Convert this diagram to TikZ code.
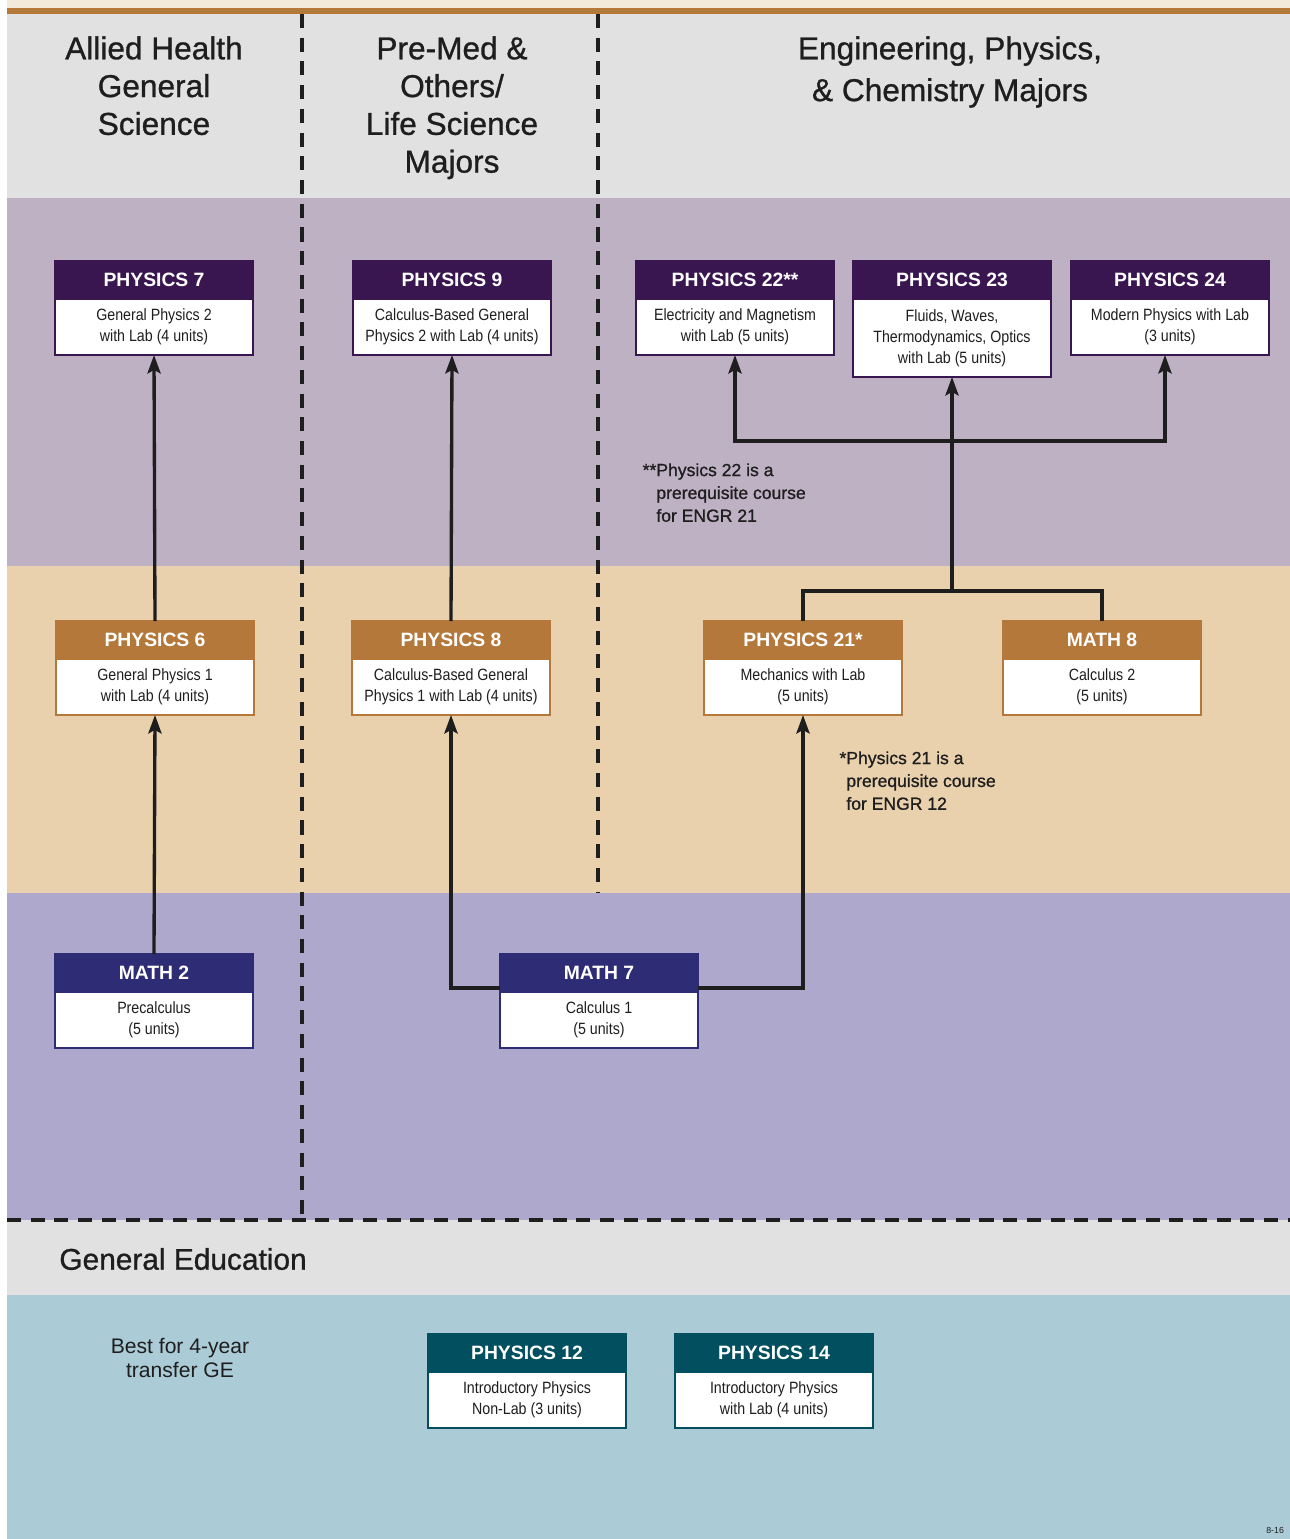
\documentclass[tikz,border=0pt]{standalone}
\usepackage{fontspec}
\setmainfont{Liberation Sans}
\newfontfamily\narrowfont{Liberation Sans}[FakeStretch=0.87]
\newfontfamily\headfont{Liberation Sans}[FakeBold=0.9]
\usepackage{tikz}
\usetikzlibrary{arrows.meta, positioning}

\definecolor{topstrip}{HTML}{F4EADB}
\definecolor{rulebar}{HTML}{B5793A}
\definecolor{headgray}{HTML}{E1E1E1}
\definecolor{rowone}{HTML}{BEB1C4}
\definecolor{rowtwo}{HTML}{E9D1AD}
\definecolor{rowthree}{HTML}{AEA8CD}
\definecolor{geblue}{HTML}{ABCCD7}
\definecolor{plum}{HTML}{3A1650}
\definecolor{bronze}{HTML}{B4783A}
\definecolor{navyblue}{HTML}{2D2C74}
\definecolor{petrol}{HTML}{02505F}
\definecolor{ink}{HTML}{1E1E1E}

\tikzset{
    coursehead/.style={rectangle, draw=#1, fill=#1, line width=1.2pt, minimum width=3.96cm, minimum height=0.76cm, inner sep=0pt, outer sep=0pt, text=white, font=\fontsize{11}{13}\selectfont\bfseries},
    coursebody/.style={rectangle, draw=#1, fill=white, line width=1.2pt, minimum width=3.96cm, minimum height=1.12cm, inner sep=0pt, outer sep=0pt, align=center, text=ink, font=\narrowfont\fontsize{9.3}{11.9}\selectfont},
    conn/.style={line width=1.9pt, draw=ink},
    arr/.style={conn, -{Stealth[length=10.5pt, width=7.5pt, inset=2pt]}},
    divider/.style={line width=2.2pt, draw=ink, dash pattern=on 8pt off 5.5pt},
    heading/.style={align=center, text=ink, inner sep=0pt, anchor=north},
    note/.style={align=left, text=ink, inner sep=0pt, anchor=north west, font=\headfont\fontsize{10}{13}\selectfont},
}

\begin{document}
\begin{tikzpicture}[x=0.02cm, y=-0.02cm]
    \useasboundingbox (0,0) rectangle (1290,1539);

    % bands
    \fill[topstrip] (7,0) rectangle (1290,8);
    \fill[rulebar] (7,8) rectangle (1290,14);
    \fill[headgray] (7,14) rectangle (1290,198);
    \fill[rowone] (7,198) rectangle (1290,566);
    \fill[rowtwo] (7,566) rectangle (1290,893);
    \fill[rowthree] (7,893) rectangle (1290,1220);
    \fill[headgray] (7,1220) rectangle (1290,1295);
    \fill[geblue] (7,1295) rectangle (1290,1539);

    \draw[divider] (302,14) -- (302,1220);
    \draw[divider] (598,14) -- (598,893);
    \draw[divider] (7,1220) -- (1290,1220);

    % column headings
    \node[heading, font=\headfont\fontsize{18}{21.5}\selectfont] (allied) at (154,36) {Allied Health\\General\\Science};
    \node[heading, font=\headfont\fontsize{18}{21.5}\selectfont] (premed) at (452,36) {Pre-Med \&\\Others/\\Life Science\\Majors};
    \node[heading, font=\headfont\fontsize{18}{23.8}\selectfont] (eng) at (950,36) {Engineering, Physics,\\\& Chemistry Majors};

    % top row
    \node[coursehead=plum] (p7) at (154,280) {PHYSICS 7};
    \node[coursebody=plum, below=0pt of p7] (p7b) {General Physics 2\\with Lab (4 units)};
    \node[coursehead=plum] (p9) at (452,280) {PHYSICS 9};
    \node[coursebody=plum, below=0pt of p9] (p9b) {Calculus-Based General\\Physics 2 with Lab (4 units)};
    \node[coursehead=plum] (p22) at (735,280) {PHYSICS 22**};
    \node[coursebody=plum, below=0pt of p22] (p22b) {Electricity and Magnetism\\with Lab (5 units)};
    \node[coursehead=plum] (p23) at (952,280) {PHYSICS 23};
    \node[coursebody=plum, minimum height=1.56cm, below=0pt of p23] (p23b) {Fluids, Waves,\\Thermodynamics, Optics\\with Lab (5 units)};
    \node[coursehead=plum] (p24) at (1170,280) {PHYSICS 24};
    \node[coursebody=plum, below=0pt of p24] (p24b) {Modern Physics with Lab\\(3 units)};

    \node[note] (note22) at (656,463) {\llap{**}Physics 22 is a\\prerequisite course\\for ENGR 21};

    % middle row
    \node[coursehead=bronze] (p6) at (155,640) {PHYSICS 6};
    \node[coursebody=bronze, below=0pt of p6] (p6b) {General Physics 1\\with Lab (4 units)};
    \node[coursehead=bronze] (p8) at (451,640) {PHYSICS 8};
    \node[coursebody=bronze, below=0pt of p8] (p8b) {Calculus-Based General\\Physics 1 with Lab (4 units)};
    \node[coursehead=bronze] (p21) at (803,640) {PHYSICS 21*};
    \node[coursebody=bronze, below=0pt of p21] (p21b) {Mechanics with Lab\\(5 units)};
    \node[coursehead=bronze] (m8) at (1102,640) {MATH 8};
    \node[coursebody=bronze, below=0pt of m8] (m8b) {Calculus 2\\(5 units)};

    \node[note] (note21) at (846,751) {\llap{*}Physics 21 is a\\prerequisite course\\for ENGR 12};

    % bottom row
    \node[coursehead=navyblue] (m2) at (154,973) {MATH 2};
    \node[coursebody=navyblue, below=0pt of m2] (m2b) {Precalculus\\(5 units)};
    \node[coursehead=navyblue] (m7) at (599,973) {MATH 7};
    \node[coursebody=navyblue, below=0pt of m7] (m7b) {Calculus 1\\(5 units)};

    % general education
    \node[anchor=west, text=ink, inner sep=0pt, font=\headfont\fontsize{17}{20}\selectfont] (ge) at (59,1259) {General Education};
    \node[heading, font=\fontsize{12}{13.6}\selectfont] (best) at (180,1338) {Best for 4-year\\transfer GE};
    \node[coursehead=petrol] (p12) at (527,1353) {PHYSICS 12};
    \node[coursebody=petrol, below=0pt of p12] (p12b) {Introductory Physics\\Non-Lab (3 units)};
    \node[coursehead=petrol] (p14) at (774,1353) {PHYSICS 14};
    \node[coursebody=petrol, below=0pt of p14] (p14b) {Introductory Physics\\with Lab (4 units)};

    \node[anchor=west, text=ink, inner sep=0pt, font=\fontsize{5}{6}\selectfont] (page) at (1266,1530) {8-16};

    % prerequisites
    \draw[arr] (p6.north) -- (p7b.south);
    \draw[arr] (m2.north) -- (p6b.south);
    \draw[arr] (p8.north) -- (p9b.south);
    \draw[arr] ([yshift=0.08cm]m7.south west) -| (p8b.south);
    \draw[arr] ([yshift=0.08cm]m7.south east) -| (p21b.south);

    \coordinate (fork) at (952,591);
    \coordinate (hub) at (952,441);
    \draw[conn] (p21.north) |- (fork) -| (m8.north);
    \draw[arr] (fork) -- (p23b.south);
    \draw[arr] (hub) -| (p22b.south);
    \draw[arr] (hub) -| ([xshift=-0.1cm]p24b.south);
\end{tikzpicture}
\end{document}
